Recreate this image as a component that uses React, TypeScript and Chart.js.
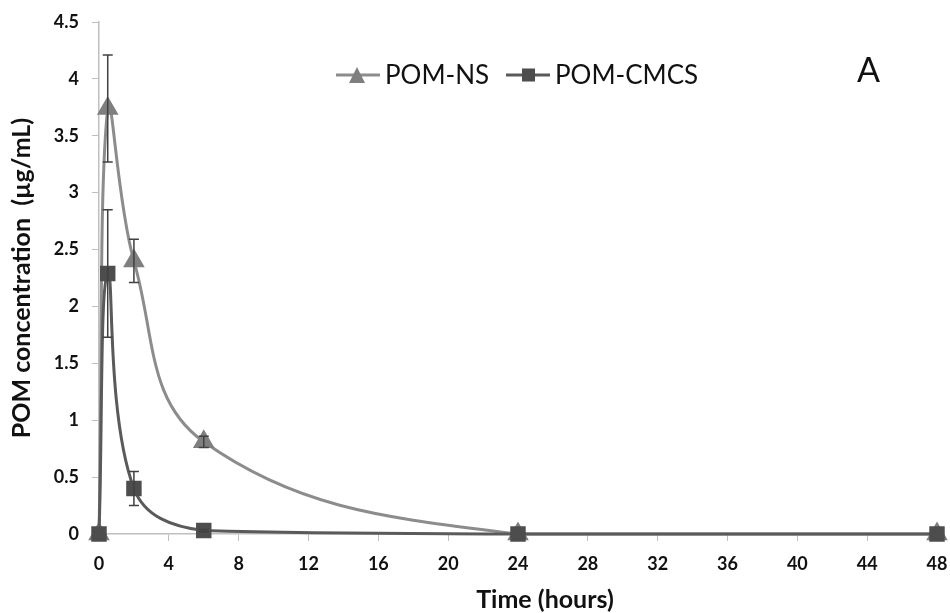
import React, { useEffect, useRef } from "react";
import { Chart, registerables } from "chart.js";

Chart.register(...registerables);

const timeHours = [0, 0.5, 2, 6, 24, 48];
const nsValues = [0, 3.74, 2.4, 0.81, 0, 0];
const nsErrors = [0, 0.47, 0.19, 0.05, 0, 0];
const cmcsValues = [0, 2.29, 0.4, 0.03, 0, 0];
const cmcsErrors = [0, 0.56, 0.15, 0.01, 0, 0];
const xTickValues = [0, 4, 8, 12, 16, 20, 24, 28, 32, 36, 40, 44, 48];
const yTickValues = [0, 0.5, 1, 1.5, 2, 2.5, 3, 3.5, 4, 4.5];
const seriesNames = ["POM-NS", "POM-CMCS"];
const panelLabel = "A";
const xTitle = "Time (hours)";
const yTitle = "POM concentration  (\u00b5g/mL)";

const NS_LINE = "#8c8c8c";
const NS_MARK = "#7f7f7f";
const CM_LINE = "#5a5a5a";
const CM_MARK = "#4d4d4d";
const ERR = "#404040";
const AXIS = "#bfbfbf";
const FONT = "Lato, 'Open Sans', sans-serif";

const errorBarPlugin = {
  id: "errorBars",
  afterDatasetsDraw(chart: any) {
    const ctx = chart.ctx;
    const xs = chart.scales.x;
    const ys = chart.scales.y;
    chart.data.datasets.forEach((ds: any) => {
      const errs: number[] = ds.errors || [];
      const vals: number[] = ds.data.map((p: any) => p.y);
      ctx.save();
      ctx.strokeStyle = ERR;
      ctx.lineWidth = 1.5;
      errs.forEach((e, i) => {
        if (!e) return;
        const x = xs.getPixelForValue(timeHours[i]);
        const yt = ys.getPixelForValue(vals[i] + e);
        const yb = ys.getPixelForValue(Math.max(0, vals[i] - e));
        ctx.beginPath();
        ctx.moveTo(x, yt);
        ctx.lineTo(x, yb);
        ctx.moveTo(x - 5, yt);
        ctx.lineTo(x + 5, yt);
        ctx.moveTo(x - 5, yb);
        ctx.lineTo(x + 5, yb);
        ctx.stroke();
      });
      ctx.restore();
    });
  },
};

const legendPlugin = {
  id: "customLegend",
  afterDraw(chart: any) {
    const ctx = chart.ctx;
    ctx.save();
    const cy = 75;
    ctx.strokeStyle = NS_LINE;
    ctx.lineWidth = 3;
    ctx.beginPath();
    ctx.moveTo(336, cy);
    ctx.lineTo(380, cy);
    ctx.stroke();
    ctx.fillStyle = NS_MARK;
    ctx.beginPath();
    ctx.moveTo(357, cy - 8);
    ctx.lineTo(365, cy + 8);
    ctx.lineTo(349, cy + 8);
    ctx.closePath();
    ctx.fill();
    ctx.fillStyle = "#111";
    ctx.font = `26px ${FONT}`;
    ctx.textBaseline = "middle";
    ctx.textAlign = "left";
    ctx.fillText(seriesNames[0], 385, cy + 1);
    ctx.strokeStyle = CM_LINE;
    ctx.beginPath();
    ctx.moveTo(506, cy);
    ctx.lineTo(550, cy);
    ctx.stroke();
    ctx.fillStyle = CM_MARK;
    ctx.fillRect(522, cy - 6.5, 13, 13);
    ctx.fillStyle = "#111";
    ctx.fillText(seriesNames[1], 555, cy + 1);
    ctx.font = `34px ${FONT}`;
    ctx.fillText(panelLabel, 857, 71);
    ctx.font = `bold 25px ${FONT}`;
    ctx.textAlign = "center";
    ctx.fillText(xTitle, 545, 600);
    ctx.restore();
  },
};

export default function App() {
  const ref = useRef<HTMLCanvasElement | null>(null);
  useEffect(() => {
    document.body.style.margin = "0";
    const canvas = ref.current!;
    const chart = new Chart(canvas, {
      type: "line",
      data: {
        datasets: [
          {
            label: seriesNames[1],
            data: timeHours.map((t, i) => ({ x: t, y: cmcsValues[i] })),
            errors: cmcsErrors,
            borderColor: CM_LINE,
            backgroundColor: CM_MARK,
            pointBackgroundColor: CM_MARK,
            pointBorderColor: CM_MARK,
            pointStyle: "rect",
            pointRadius: 8.8,
            borderWidth: 3,
            tension: 0.4,
            clip: false,
          } as any,
          {
            label: seriesNames[0],
            data: timeHours.map((t, i) => ({ x: t, y: nsValues[i] })),
            errors: nsErrors,
            borderColor: NS_LINE,
            backgroundColor: NS_MARK,
            pointBackgroundColor: NS_MARK,
            pointBorderColor: NS_MARK,
            pointStyle: "triangle",
            pointRadius: 9.5,
            borderWidth: 3,
            tension: 0.4,
            clip: false,
          } as any,
        ],
      },
      options: {
        responsive: false,
        animation: false,
        layout: { padding: { left: 0, right: 13, top: 22, bottom: 0 } },
        plugins: { legend: { display: false }, tooltip: { enabled: false } },
        scales: {
          x: {
            type: "linear",
            min: 0,
            max: 48,
            afterBuildTicks: (s: any) => {
              s.ticks = xTickValues.map((v) => ({ value: v }));
            },
            afterFit: (s: any) => {
              s.height = 79;
              s.paddingLeft = 0;
              s.paddingRight = 0;
            },
            grid: { display: true, drawOnChartArea: false, drawTicks: true, tickLength: 7, color: AXIS },
            border: { color: AXIS, width: 1.5 },
            ticks: { color: "#111", font: { family: FONT, size: 18, weight: "bold" }, padding: 12, maxRotation: 0, callback: (v: any) => String(v) },
            title: { display: false },
          },
          y: {
            type: "linear",
            min: 0,
            max: 4.5,
            afterBuildTicks: (s: any) => {
              s.ticks = yTickValues.map((v) => ({ value: v }));
            },
            afterFit: (s: any) => {
              s.width = 99;
              s.paddingTop = 0;
              s.paddingBottom = 0;
            },
            grid: { display: true, drawOnChartArea: false, drawTicks: true, tickLength: 7, color: AXIS },
            border: { color: AXIS, width: 1.5 },
            ticks: { color: "#111", font: { family: FONT, size: 18, weight: "bold" }, padding: 13, callback: (v: any) => String(v) },
            title: { display: true, text: yTitle, color: "#111", font: { family: FONT, size: 25, weight: "bold" }, padding: { top: 7, bottom: 0 } },
          },
        },
      } as any,
      plugins: [errorBarPlugin, legendPlugin],
    });
    return () => chart.destroy();
  }, []);
  return (
    <div style={{ position: "absolute", left: 0, top: 0, width: 950, height: 613, background: "#fff" }}>
      <canvas ref={ref} width={950} height={613} />
    </div>
  );
}
